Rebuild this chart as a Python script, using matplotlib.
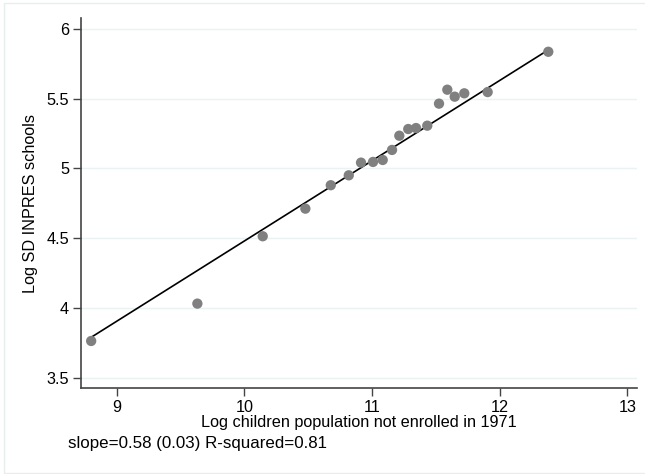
import numpy as np
import matplotlib
matplotlib.use("Agg")
import matplotlib.pyplot as plt
from matplotlib.patches import Rectangle

# Data (binned scatter)
log_children = [8.800, 9.632, 10.144, 10.478, 10.677, 10.818, 10.914, 11.008,
                11.084, 11.157, 11.214, 11.284, 11.345, 11.433, 11.525, 11.590,
                11.648, 11.723, 11.906, 12.381]
log_schools = [3.763, 4.031, 4.514, 4.712, 4.880, 4.951, 5.042, 5.047,
               5.061, 5.133, 5.235, 5.283, 5.290, 5.307, 5.465, 5.565,
               5.515, 5.539, 5.548, 5.837]
fit_slope = 0.5755
fit_intercept = -1.275
x_ticks = [9, 10, 11, 12, 13]
y_ticks = [3.5, 4, 4.5, 5, 5.5, 6]
y_tick_labels = ["3.5", "4", "4.5", "5", "5.5", "6"]
note_text = "slope=0.58 (0.03) R-squared=0.81"

plt.rcParams['font.family'] = ['Liberation Sans', 'DejaVu Sans']

W, H = 645, 474
fig = plt.figure(figsize=(W / 100, H / 100), dpi=100)
fig.patch.set_facecolor("white")

# outer faint border
fig.patches.append(Rectangle((4 / W, 1 - 472.5 / H), (W + 5 - 4) / W, (472.5 - 3) / H,
                             transform=fig.transFigure, fill=False,
                             edgecolor="#E8EEEE", linewidth=1.0))

left, right, top, bottom = 80.7, 637, 18.3, 387.7
ax = fig.add_axes([left / W, 1 - bottom / H, (right - left) / W, (bottom - top) / H])

ax.set_xlim(8.718, 13.076)
ax.set_ylim(3.428, 6.077)

for yv in y_ticks:
    ax.axhline(yv, color="#EAF2F3", linewidth=1.0, zorder=0)

xs = np.array([min(log_children), max(log_children)])
ax.plot(xs, fit_intercept + fit_slope * xs, color="black", linewidth=1.2, zorder=2)
ax.scatter(log_children, log_schools, s=55, color="#808080", edgecolors="none", zorder=3)

ax.set_xticks(x_ticks)
ax.set_xticklabels([str(v) for v in x_ticks])
ax.set_yticks(y_ticks)
ax.set_yticklabels(y_tick_labels)
ax.tick_params(axis="both", direction="out", length=5.5, width=1.0, color="#444444",
               labelsize=11.7, labelcolor="black", pad=3)

for s in ["top", "right"]:
    ax.spines[s].set_visible(False)
for s in ["left", "bottom"]:
    ax.spines[s].set_color("#444444")
    ax.spines[s].set_linewidth(1.2)

ax.set_ylabel("Log SD INPRES schools", fontsize=11.7)
ax.yaxis.set_label_coords(-(left - 30) / (right - left), 0.5, transform=ax.transAxes)
ax.yaxis.label.set_va("center")

fig.text((left + right) / 2 / W, 1 - 426.7 / H,
         "Log children population not enrolled in 1971",
         fontsize=11.7, ha="center", va="baseline")
fig.text(68 / W, 1 - 448.3 / H, note_text, fontsize=12.2, ha="left", va="baseline")

fig.savefig("out.png", dpi=100, facecolor="white")
